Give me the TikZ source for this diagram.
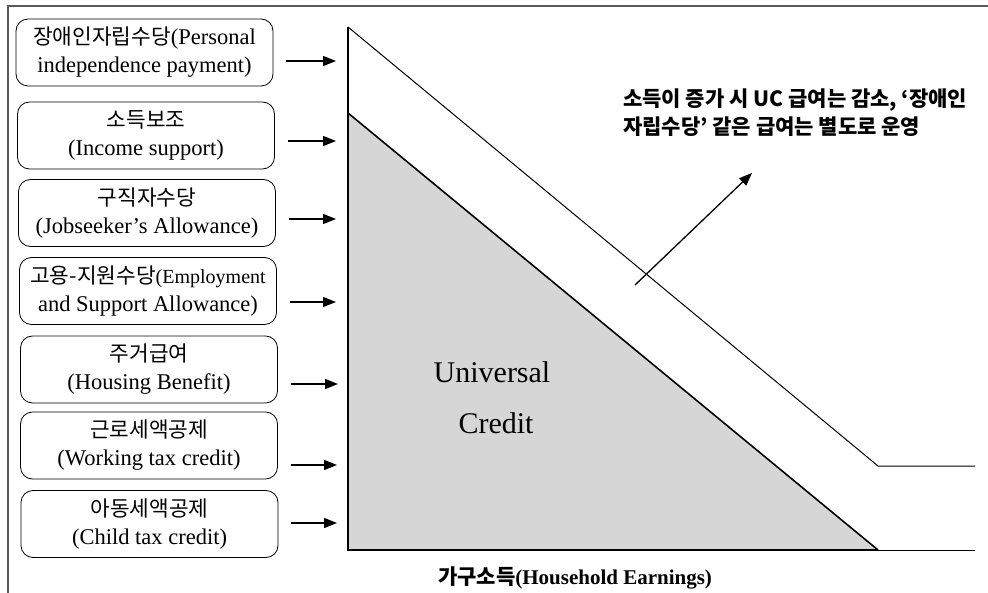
\documentclass[tikz,border=0pt]{standalone}
\usepackage{fontspec}
\setmainfont{Liberation Serif}
\newfontfamily\kr[Scale=0.95]{Noto Sans CJK KR}
\newfontfamily\krh{Noto Sans CJK KR}
\usetikzlibrary{arrows.meta}
\definecolor{ucgray}{RGB}{214,214,214}
\begin{document}
\begin{tikzpicture}[x=1pt,y=-1pt,
  box/.style={draw=black, line width=0.8pt, rounded corners=12pt, minimum width=257pt, minimum height=67pt, inner sep=0pt, align=center, font=\fontsize{22.5}{28}\selectfont},
  arr/.style={line width=1.3pt, -{Triangle[length=13pt,width=10pt]}},
  lbl/.style={font=\fontsize{30}{36}\selectfont, anchor=base},
  head/.style={font=\krh\bfseries\fontsize{21}{28}\selectfont, anchor=base west, inner sep=0pt}]
\useasboundingbox (0,0) rectangle (988,593);
% frame
\draw[line width=2pt, draw=black!65] (8,593) -- (8,6) -- (988,6);
% boxes
\node[box] (b1) at (144.5,52.5) {{\kr 장애인자립수당}(Personal\\independence payment)};
\node[box] (b2) at (146,135.5) {{\kr 소득보조}\\(Income support)};
\node[box] (b3) at (147,213) {{\kr 구직자수당}\\(Jobseeker’s Allowance)};
\node[box] (b4) at (148,291) {{\kr 고용-지원수당}{\fontsize{20}{28}\selectfont(Employment}\\and Support Allowance)};
\node[box] (b5) at (149,369.5) {{\kr 주거급여}\\(Housing Benefit)};
\node[box] (b6) at (149,445.5) {{\kr 근로세액공제}\\(Working tax credit)};
\node[box] (b7) at (149.5,524) {{\kr 아동세액공제}\\(Child tax credit)};
% arrow targets
\coordinate (t1) at (336,61);
\coordinate (t2) at (336,141);
\coordinate (t3) at (336,219);
\coordinate (t4) at (336,302);
\coordinate (t5) at (338,384);
\coordinate (t6) at (337,465);
\coordinate (t7) at (337,523);
\foreach \i in {1,...,7} {
  \draw[arr] ([xshift=13pt]b\i.east |- t\i) -- (t\i);
}
% graph
\fill[ucgray] (348,113) -- (878,550) -- (348,550) -- cycle;
\draw[line width=1pt] (348,27) -- (878,466) -- (975,466);
\draw[line width=1.6pt] (348,113) -- (878,550);
\draw[line width=1.8pt] (348,27) -- (348,550) -- (878,550);
\draw[line width=1pt] (878,550) -- (975,550);
% increase arrow
\coordinate (a0) at (635,285);
\coordinate (a1) at (752,173);
\draw[arr] (a0) -- (a1);
% labels
\node[lbl] (u1) at (492,383) {Universal};
\node[lbl] (u2) at (496,433) {Credit};
\node[head] (h1) at (623,107) {소득이 증가 시 UC 급여는 감소, ‘장애인};
\node[head] (h2) at (623,135) {자립수당’ 같은 급여는 별도로 운영};
\node[font=\bfseries\fontsize{21}{24}\selectfont, anchor=base] (xl) at (575,584) {{\krh 가구소득}(Household Earnings)};
\end{tikzpicture}
\end{document}
